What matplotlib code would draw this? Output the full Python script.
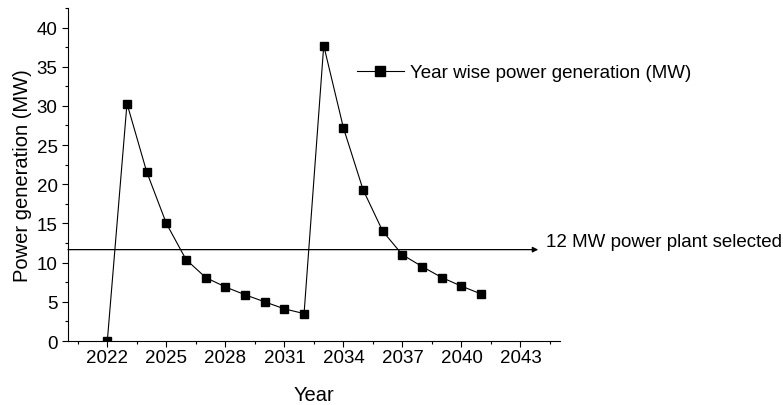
import matplotlib
matplotlib.use('Agg')
from matplotlib import pyplot as plt
from matplotlib.ticker import MultipleLocator

years = list(range(2022, 2042))
power = [0.0, 30.3, 21.6, 15.0, 10.4, 8.1, 6.9, 5.9, 5.0, 4.1, 3.5,
         37.7, 27.2, 19.3, 14.0, 11.0, 9.5, 8.1, 7.0, 6.0]
selected = 11.66
series_label = 'Year wise power generation (MW)'
line_label = '12 MW power plant selected'

plt.rcParams['font.family'] = ['Liberation Sans', 'DejaVu Sans']
plt.rcParams['font.size'] = 13.5

fig = plt.figure(figsize=(7.83, 4.06), dpi=100)
ax = fig.add_axes([0.0868, 0.1576, 0.6282, 0.8204])

ax.plot(years, power, color='black', lw=0.8, marker='s', ms=5.5,
        label=series_label)

ax.annotate('', xy=(2043.9, selected), xytext=(2020, selected),
            arrowprops=dict(arrowstyle='-|>', color='black', lw=0.9,
                            mutation_scale=8, shrinkA=0, shrinkB=0))
ax.text(2044.3, selected + 1.1, line_label, va='center', ha='left',
        fontsize=13.5, clip_on=False)

ax.set_xlim(2020, 2045)
ax.set_ylim(0, 42.5)
ax.yaxis.set_major_locator(MultipleLocator(5))
ax.yaxis.set_minor_locator(MultipleLocator(2.5))
ax.set_xticks([2022, 2025, 2028, 2031, 2034, 2037, 2040, 2043])
ax.set_xticks([2020.5 + 1.5 * i for i in range(17)], minor=True)
ax.tick_params(which='major', direction='out', length=4, width=0.8, labelsize=13.5)
ax.tick_params(axis='x', which='major', pad=1.5)
ax.tick_params(which='minor', direction='out', length=2.5, width=0.8)

for s in ['top', 'right']:
    ax.spines[s].set_visible(False)

ax.set_xlabel('Year', fontsize=14.5, labelpad=14)
ax.set_ylabel('Power generation (MW)', fontsize=14.5, labelpad=3)

leg = ax.legend(loc='center left', bbox_to_anchor=(0.456, 0.818),
                bbox_transform=fig.transFigure, frameon=False,
                borderpad=0, borderaxespad=0, handlelength=2.5,
                handletextpad=0.3, markerscale=1.3, fontsize=13.5)

fig.savefig('out.png', dpi=100)
